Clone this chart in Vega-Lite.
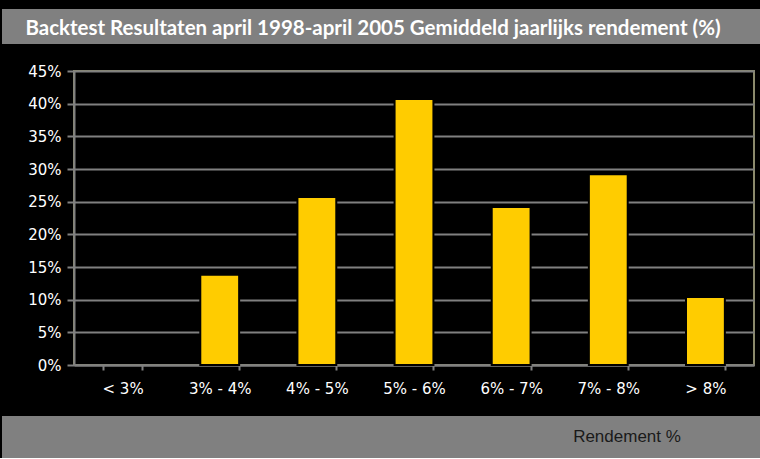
{
  "$schema": "https://vega.github.io/schema/vega-lite/v6.json",
  "background": "#000000",
  "padding": {"left": 2, "top": 9, "right": 0, "bottom": 0},
  "spacing": 19,
  "config": {"view": {"stroke": null}},
  "vconcat": [
    {
      "width": 758,
      "height": 35,
      "view": {"fill": "#808080", "stroke": null},
      "data": {"values": [{"t": "Backtest Resultaten april 1998-april 2005 Gemiddeld jaarlijks rendement (%)"}]},
      "mark": {"type": "text", "align": "center", "baseline": "middle", "font": "Lato", "fontSize": 20.5, "fontWeight": "bold", "color": "#ffffff", "dx": -8, "dy": 2},
      "encoding": {"text": {"field": "t", "type": "nominal"}}
    },
    {
      "spacing": 0,
      "hconcat": [
        {
          "width": 1,
          "height": 1,
          "data": {"values": []},
          "mark": {"type": "point", "opacity": 0}
        },
        {
          "width": 680,
          "height": 294,
          "view": {"stroke": "#8b8a6c", "strokeWidth": 2},
          "data": {"values": [
            {"range": "< 3%", "pct": 0},
            {"range": "3% - 4%", "pct": 0.138},
            {"range": "4% - 5%", "pct": 0.257},
            {"range": "5% - 6%", "pct": 0.407},
            {"range": "6% - 7%", "pct": 0.242},
            {"range": "7% - 8%", "pct": 0.292},
            {"range": "> 8%", "pct": 0.104}
          ]},
          "mark": {"type": "bar", "color": "#FFCC00", "strokeWidth": 2},
          "encoding": {
            "x": {
              "field": "range", "type": "nominal", "sort": null, "title": null,
              "scale": {"paddingInner": 0.6, "paddingOuter": 0.3},
              "axis": {"labelAngle": 0, "tickBand": "extent", "domainColor": "#808080", "domainWidth": 2, "tickColor": "#808080", "tickWidth": 2, "tickSize": 5, "labelColor": "#ffffff", "labelFont": "DejaVu Sans", "labelFontSize": 15, "labelPadding": 11}
            },
            "y": {
              "field": "pct", "type": "quantitative", "title": null,
              "scale": {"domain": [0, 0.45]},
              "axis": {"format": ".0%", "values": [0, 0.05, 0.1, 0.15, 0.2, 0.25, 0.3, 0.35, 0.4, 0.45], "grid": true, "gridColor": "#808080", "gridWidth": 2, "domainColor": "#808080", "domainWidth": 2, "tickColor": "#808080", "tickWidth": 2, "tickSize": 7, "labelColor": "#ffffff", "labelFont": "DejaVu Sans", "labelFontSize": 15, "labelPadding": 6, "minExtent": 70, "maxExtent": 70}
            },
            "stroke": {"condition": {"test": "datum.pct > 0", "value": "#000000"}, "value": null}
          }
        }
      ]
    },
    {
      "width": 758,
      "height": 42,
      "view": {"fill": "#808080", "stroke": null},
      "data": {"values": [{"t": "Rendement %"}]},
      "mark": {"type": "text", "align": "center", "baseline": "middle", "font": "Liberation Sans", "fontSize": 17, "color": "#1a1a1a", "dx": 246, "dy": 0},
      "encoding": {"text": {"field": "t", "type": "nominal"}}
    }
  ]
}
